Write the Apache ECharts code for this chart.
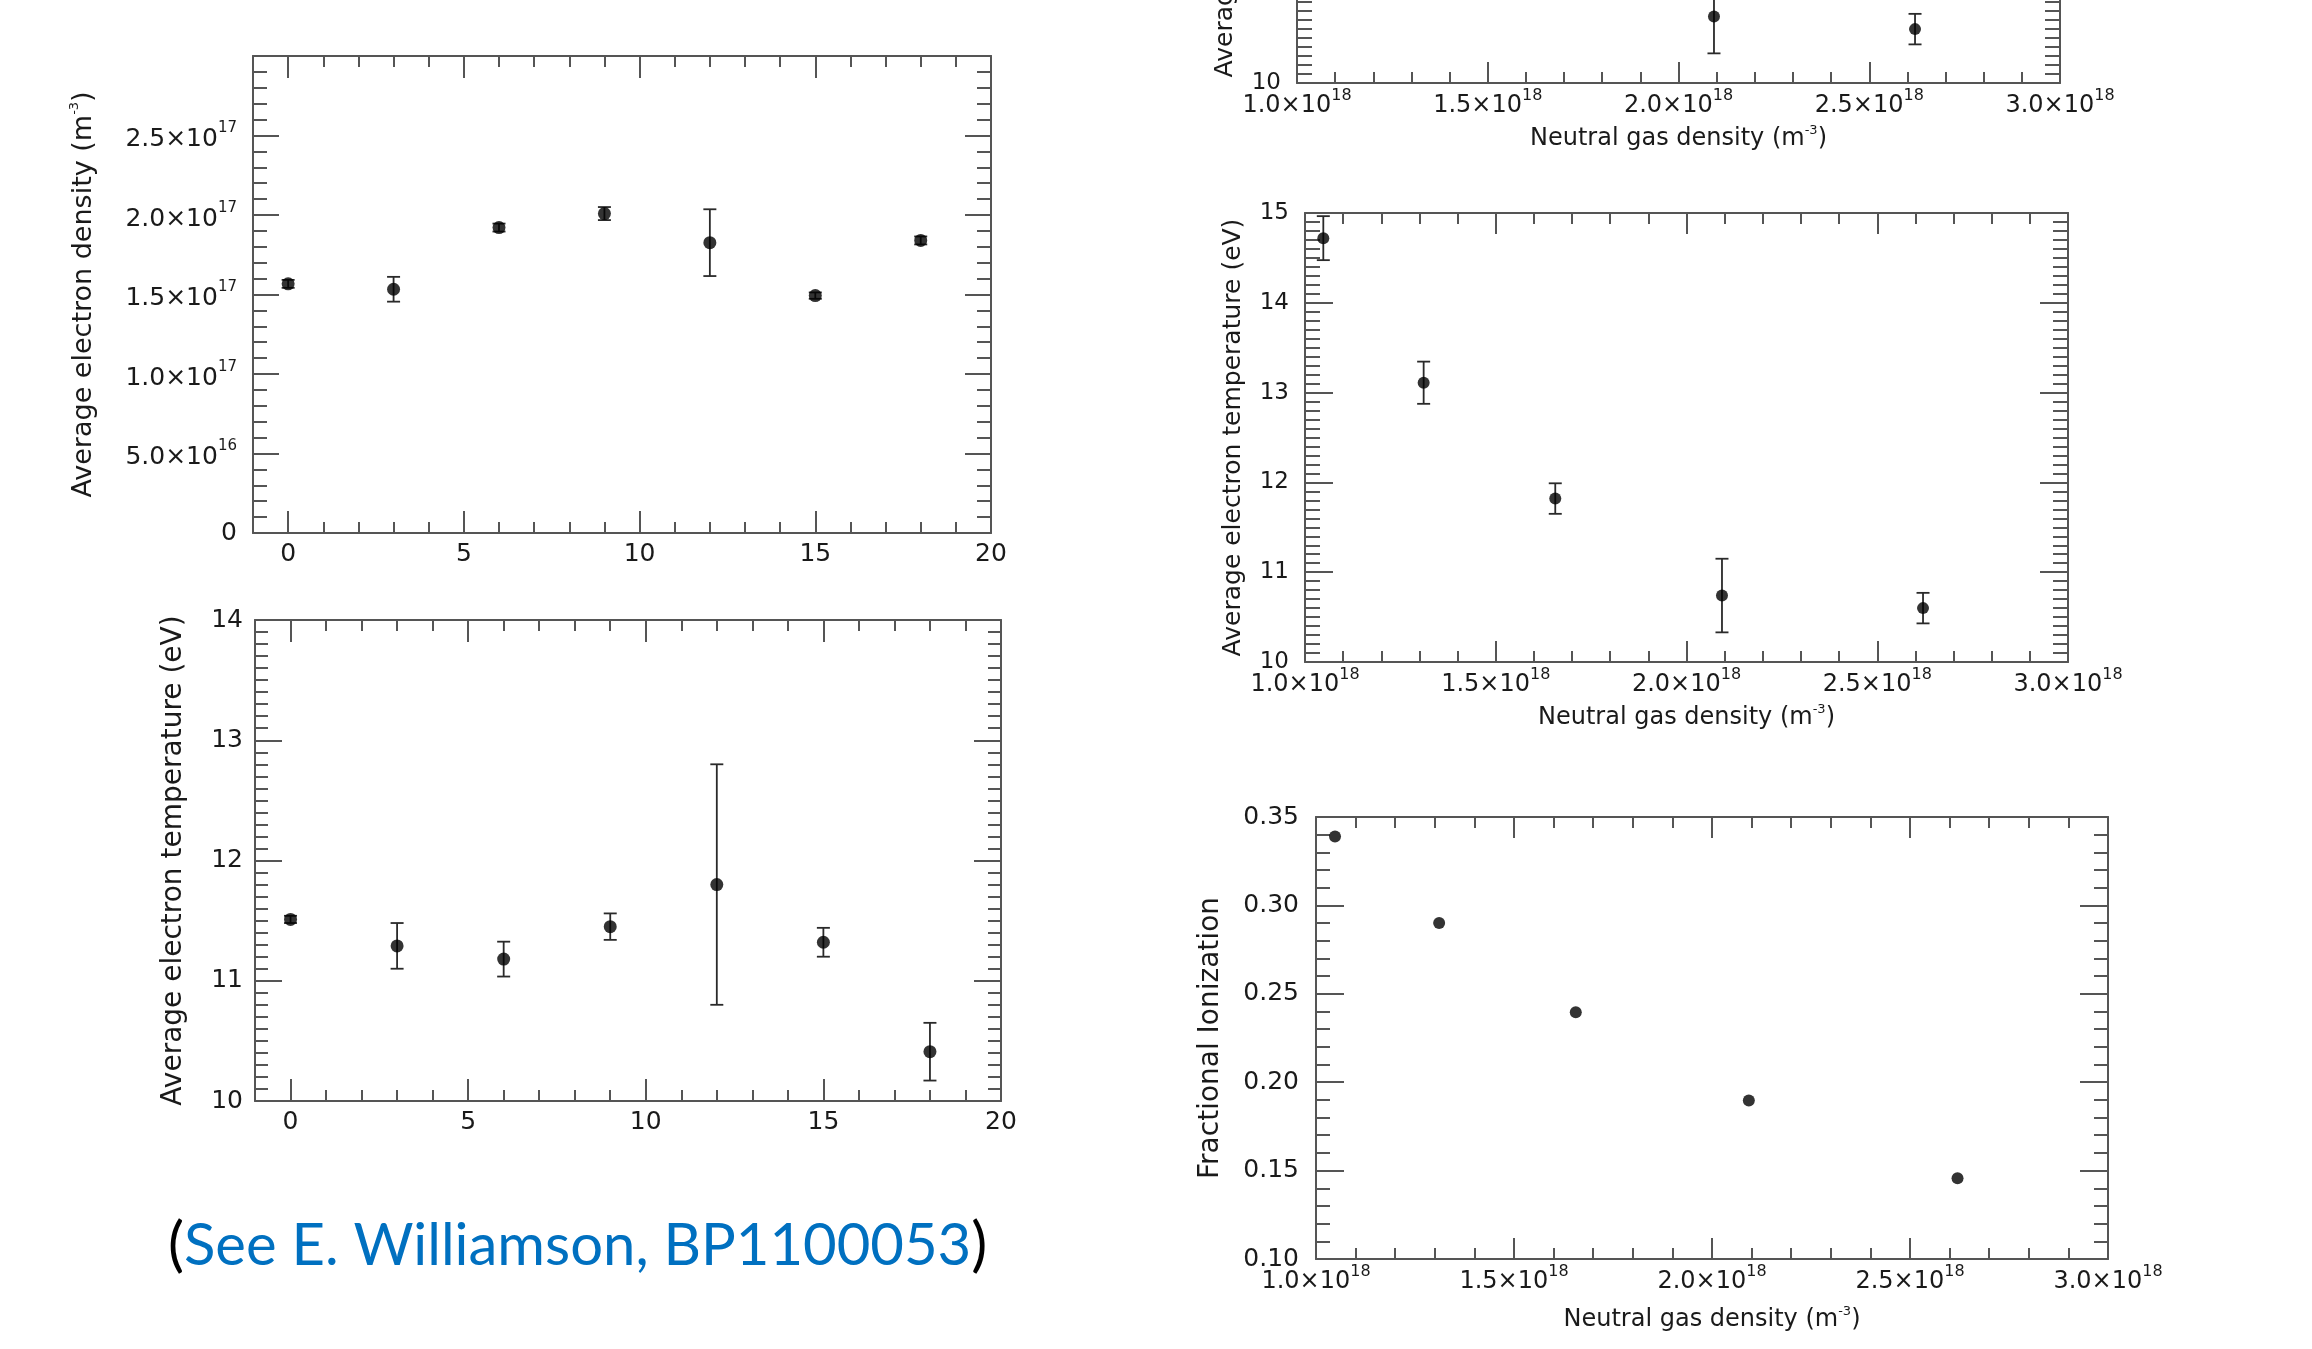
<!DOCTYPE html>
<html lang="en">
<head>
<meta charset="UTF-8">
<title>Plasma parameters</title>
<script src="https://cdn.jsdelivr.net/npm/echarts@6/dist/echarts.min.js"></script>
<style>
    html, body { margin: 0; width: 100%; height: 100%; background: #fff; }
    #chart { width: 2312px; height: 1349px; }
</style>
</head>
<body>
<div id="chart"></div>
<script>
    // scan over position (left column)
    var positions = [0, 3, 6, 9, 12, 15, 18];
    var densityByPos = [1.567e17, 1.533e17, 1.921e17, 2.009e17, 1.826e17, 1.493e17, 1.840e17];
    var densityByPosErr = [0.025e17, 0.078e17, 0.025e17, 0.041e17, 0.21e17, 0.02e17, 0.025e17];
    var tempByPos = [11.51, 11.29, 11.18, 11.45, 11.80, 11.32, 10.41];
    var tempByPosErr = [0.03, 0.19, 0.145, 0.11, 1.0, 0.12, 0.24];

    // scan over neutral gas density (right column)
    var gasDensity = [1.048e18, 1.311e18, 1.656e18, 2.093e18, 2.62e18];
    var tempByGas = [14.72, 13.11, 11.82, 10.74, 10.60];
    var tempByGasErr = [0.245, 0.235, 0.17, 0.41, 0.17];
    var ionization = [0.339, 0.290, 0.2395, 0.1896, 0.1457];

    var posTicks = [0, 5, 10, 15, 20];

    var LINE = '#555';
    var FONT = 'DejaVu Sans';
    var TXT = '#1a1a1a';

    function sci(v) {
        if (v === 0) return '0';
        var e = Math.floor(Math.log10(Math.abs(v)) + 1e-9);
        return '{m|' + (v / Math.pow(10, e)).toFixed(1) + '×10}{e|' + e + '}';
    }

    function supRich(size, sup) {
        return {
            m: { fontFamily: FONT, fontSize: size, color: TXT, lineHeight: size + 4, padding: [8, 0, 0, 0] },
            e: { fontFamily: FONT, fontSize: sup, color: TXT, lineHeight: sup + 4, verticalAlign: 'top' }
        };
    }

    var xAxis = [], yAxis = [];

    // one side of a plot frame: ticks point inwards, labels only on bottom/left
    function frame(list, grid, pos, range, o) {
        var main = pos === 'bottom' || pos === 'left';
        var ax = {
            type: 'value', gridIndex: grid, position: pos,
            min: range[0], max: range[1],
            axisLine: { show: o.line !== false, onZero: false, lineStyle: { color: LINE, width: 2 } },
            axisTick: { show: true, inside: true, length: o.tick, lineStyle: { color: LINE, width: 2 } },
            minorTick: { show: !!o.minor, splitNumber: o.minor || 5, length: o.minorLen || 0, lineStyle: { color: LINE, width: 2 } },
            splitLine: { show: false },
            minorSplitLine: { show: false },
            axisLabel: { show: false }
        };
        if (range[2] != null) ax.interval = range[2];
        if (o.ticks) ax.axisTick.customValues = o.ticks;
        if (main && o.label) {
            ax.axisLabel = Object.assign({ show: true, color: TXT, fontFamily: FONT }, o.label);
            if (o.ticks) ax.axisLabel.customValues = o.ticks;
        }
        if (main && o.name) {
            ax.name = o.name;
            ax.nameLocation = 'middle';
            ax.nameGap = o.nameGap;
            ax.nameTextStyle = {
                fontFamily: FONT, fontSize: o.nameSize, color: TXT, lineHeight: Math.round(o.nameSize * 1.2),
                rich: { s: { fontFamily: FONT, fontSize: 13, color: TXT, lineHeight: 14, verticalAlign: 'top' } }
            };
        }
        list.push(ax);
        return list.length - 1;
    }

    var grids = [
        { left: 253, top: 56, width: 738, height: 477 },
        { left: 255, top: 620, width: 746, height: 481 },
        { left: 1297, top: -366, width: 763, height: 449 },
        { left: 1305, top: 213, width: 763, height: 449 },
        { left: 1316, top: 817, width: 792, height: 442 }
    ];
    grids.forEach(function (g) { g.containLabel = false; g.outerBoundsMode = 'none'; });

    // position axis with major ticks every 5 and minor every 1
    function positionX(grid) {
        var xi = frame(xAxis, grid, 'bottom', [-1, 20], { tick: 22, ticks: posTicks, label: { fontSize: 25, margin: 9 } });
        frame(xAxis, grid, 'bottom', [-1, 20, 1], { tick: 11, line: false });
        frame(xAxis, grid, 'top', [-1, 20], { tick: 22, ticks: posTicks });
        frame(xAxis, grid, 'top', [-1, 20, 1], { tick: 11, line: false });
        return xi;
    }

    function gasX(grid, gap) {
        var xi = frame(xAxis, grid, 'bottom', [1e18, 3e18, 5e17], {
            tick: 21, minor: 5, minorLen: 11,
            label: { fontSize: 24, margin: 5, formatter: sci, rich: supRich(24, 16) },
            name: 'Neutral gas density (m{s|-3})', nameGap: gap, nameSize: 24
        });
        frame(xAxis, grid, 'top', [1e18, 3e18, 5e17], { tick: 21, minor: 5, minorLen: 11 });
        return xi;
    }

    var p0x = positionX(0);
    var p0y = frame(yAxis, 0, 'left', [0, 3e17, 5e16], {
        tick: 26, minor: 5, minorLen: 14,
        label: { fontSize: 25, margin: 16, formatter: sci, rich: supRich(25, 15), showMaxLabel: false },
        name: 'Average electron density (m{s|-3})', nameGap: 153, nameSize: 27
    });
    frame(yAxis, 0, 'right', [0, 3e17, 5e16], { tick: 26, minor: 5, minorLen: 14 });

    var p1x = positionX(1);
    var p1y = frame(yAxis, 1, 'left', [10, 14, 1], {
        tick: 27, minor: 10, minorLen: 13,
        label: { fontSize: 25, margin: 12 },
        name: 'Average electron temperature (eV)', nameGap: 64, nameSize: 28
    });
    frame(yAxis, 1, 'right', [10, 14, 1], { tick: 27, minor: 10, minorLen: 13 });

    function tempGasY(grid) {
        var yi = frame(yAxis, grid, 'left', [10, 15, 1], {
            tick: 28, minor: 10, minorLen: 15,
            label: { fontSize: 23, margin: 16 },
            name: 'Average electron temperature (eV)', nameGap: 57, nameSize: 25
        });
        frame(yAxis, grid, 'right', [10, 15, 1], { tick: 28, minor: 10, minorLen: 15 });
        return yi;
    }
    var p2x = gasX(2, 41), p2y = tempGasY(2);
    var p3x = gasX(3, 41), p3y = tempGasY(3);

    var p4x = gasX(4, 46);
    var p4y = frame(yAxis, 4, 'left', [0.1, 0.35, 0.05], {
        tick: 28, minor: 5, minorLen: 14,
        label: { fontSize: 25, margin: 17, formatter: function (v) { return v.toFixed(2); } },
        name: 'Fractional Ionization', nameGap: 88, nameSize: 28
    });
    frame(yAxis, 4, 'right', [0.1, 0.35, 0.05], { tick: 28, minor: 5, minorLen: 14 });

    function errorBars(params, api) {
        var x = api.value(0), y = api.value(1), e = api.value(2);
        var hi = api.coord([x, y + e]), lo = api.coord([x, y - e]);
        var w = 6.5;
        var st = { stroke: '#2a2a2a', lineWidth: 1.8 };
        return {
            type: 'group', children: [
                { type: 'line', shape: { x1: hi[0], y1: hi[1], x2: lo[0], y2: lo[1] }, style: st },
                { type: 'line', shape: { x1: hi[0] - w, y1: hi[1], x2: hi[0] + w, y2: hi[1] }, style: st },
                { type: 'line', shape: { x1: lo[0] - w, y1: lo[1], x2: lo[0] + w, y2: lo[1] }, style: st }
            ]
        };
    }

    function points(xs, ys, xi, yi, size) {
        return {
            type: 'scatter', xAxisIndex: xi, yAxisIndex: yi, symbolSize: size, z: 5,
            itemStyle: { color: '#000' },
            data: xs.map(function (x, i) { return [x, ys[i]]; })
        };
    }
    function bars(xs, ys, es, xi, yi) {
        return {
            type: 'custom', xAxisIndex: xi, yAxisIndex: yi, renderItem: errorBars, z: 4,
            data: xs.map(function (x, i) { return [x, ys[i], es[i]]; })
        };
    }

    var series = [
        bars(positions, densityByPos, densityByPosErr, p0x, p0y),
        points(positions, densityByPos, p0x, p0y, 13),
        bars(positions, tempByPos, tempByPosErr, p1x, p1y),
        points(positions, tempByPos, p1x, p1y, 13),
        bars(gasDensity, tempByGas, tempByGasErr, p2x, p2y),
        points(gasDensity, tempByGas, p2x, p2y, 12),
        bars(gasDensity, tempByGas, tempByGasErr, p3x, p3y),
        points(gasDensity, tempByGas, p3x, p3y, 12),
        points(gasDensity, ionization, p4x, p4y, 12)
    ];

    var chart = echarts.init(document.getElementById('chart'));
    chart.setOption({
        backgroundColor: '#fff',
        animation: false,
        grid: grids,
        xAxis: xAxis,
        yAxis: yAxis,
        series: series,
        graphic: [{
            type: 'text', left: 168, top: 1216,
            style: {
                text: '{p|(}{b|See E. Williamson, BP1100053}{p|)}',
                rich: {
                    p: { fontFamily: 'Lato', fontSize: 60, fill: '#000' },
                    b: { fontFamily: 'Lato', fontSize: 58, fill: '#0070C0' }
                }
            }
        }]
    });
</script>
</body>
</html>
